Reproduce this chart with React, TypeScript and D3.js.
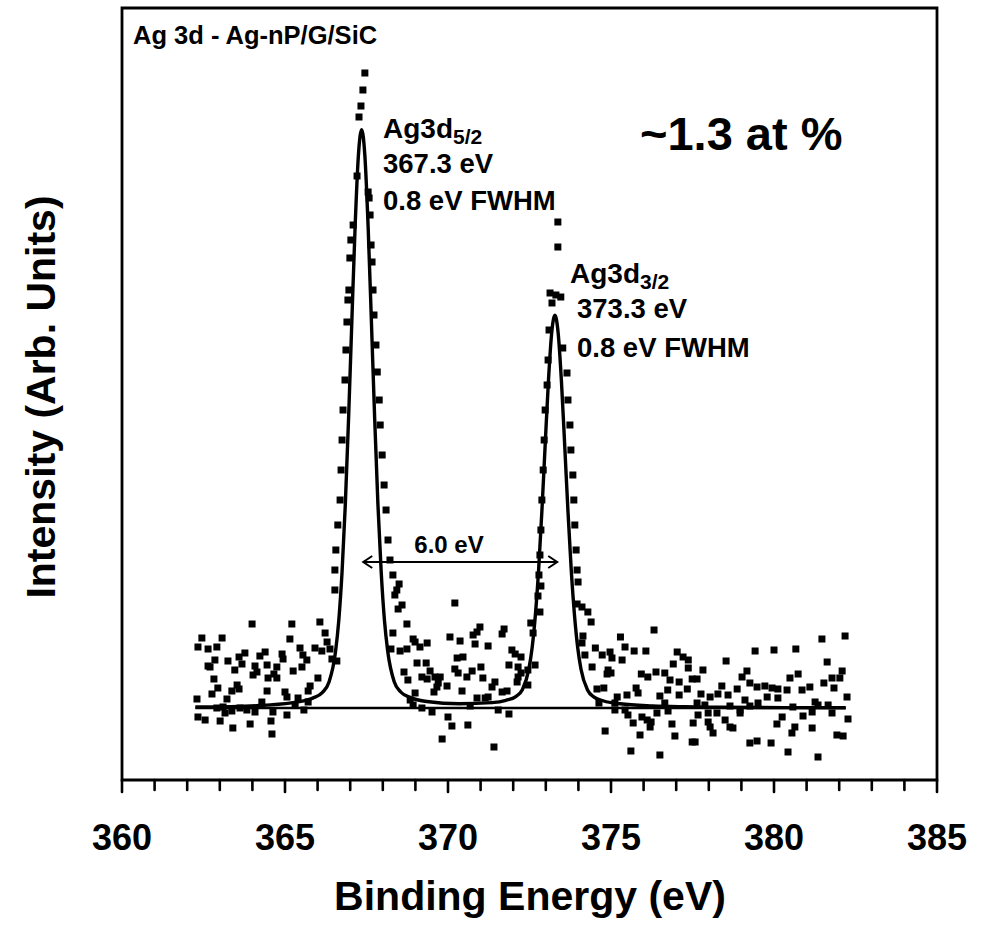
import React from "react";
import * as d3 from "d3";

// ---------- data ----------
// scatter: binding energy (eV) and intensity (arb. units)
const pointsEV: number[] = [
  // left background
  366.53,363.99,365.21,366.07,362.45,363.07,365.15,366.23,362.33,362.64,362.91,366.29,366.38,365.92,366.13,365.46,
  363.77,363.59,364.39,364.23,364.91,364.94,365.55,365.67,366.44,366.59,362.85,362.64,362.70,363.25,363.68,363.46,
  364.08,364.14,364.45,364.75,364.66,365.52,365.25,364.02,364.48,364.75,362.82,366.01,363.53,363.59,362.94,362.76,
  363.37,365.77,365.71,364.45,365.00,365.06,362.30,363.22,364.29,365.40,365.31,365.71,365.58,363.10,362.91,363.62,
  363.83,364.08,362.55,362.33,363.01,363.16,363.40,363.93,364.57,365.06,364.60,364.63,363.37,
  // peak 1
  367.45,367.39,367.33,367.27,367.21,367.55,367.58,367.09,367.02,366.99,366.96,366.93,366.90,366.87,366.84,366.78,
  366.75,366.72,366.69,366.62,366.56,366.53,367.61,367.64,367.67,367.70,367.73,367.79,367.83,367.89,367.92,367.98,
  368.04,368.10,368.16,368.22,368.31,
  // valley
  368.50,368.43,368.37,370.21,368.59,368.47,368.74,370.98,370.89,370.77,371.72,371.66,368.31,370.06,370.37,368.93,
  368.99,369.36,369.14,370.83,371.23,368.25,368.53,368.74,371.96,372.06,372.24,370.28,370.46,369.05,369.33,371.87,
  372.15,372.24,371.01,368.65,368.77,369.45,369.60,370.21,370.31,370.74,370.58,369.20,369.36,369.76,369.70,369.66,
  369.57,371.07,369.97,370.43,371.44,371.35,372.15,372.12,371.66,371.81,371.23,371.14,370.89,368.99,368.84,368.93,
  369.20,369.51,370.68,371.54,371.87,370.00,370.12,370.61,369.82,371.41,
  // peak 2
  373.37,373.37,373.13,373.31,373.46,373.19,373.10,373.07,373.04,372.98,372.95,372.92,372.88,372.85,372.82,372.79,
  373.52,373.65,373.68,373.74,373.77,373.83,373.86,373.89,373.93,373.96,
  372.85,372.76,372.82,372.54,372.61,372.67,372.45,372.45,
  // right background
  373.99,373.96,374.11,374.29,374.39,374.14,374.11,374.52,374.73,374.20,375.29,375.43,375.71,376.07,374.97,375.03,
  375.34,374.42,374.91,375.00,374.88,376.32,377.03,377.21,377.37,377.37,376.91,375.93,376.13,376.38,376.65,376.81,
  377.09,377.49,374.57,374.78,375.77,375.83,375.49,376.74,377.09,377.34,376.50,375.19,375.12,374.63,376.65,375.12,
  375.43,375.52,375.68,375.95,376.11,376.23,376.20,376.41,376.75,374.82,375.89,376.87,376.96,377.49,377.52,375.61,
  376.50,
  381.47,382.18,379.42,380.00,380.67,378.53,381.63,377.82,379.17,379.02,382.09,382.02,381.78,380.74,380.49,377.64,
  379.26,379.48,379.72,379.94,380.12,380.40,378.40,378.87,380.86,381.10,381.53,381.84,377.76,378.04,378.28,378.59,
  379.79,380.12,382.24,379.11,379.51,381.26,381.35,377.64,377.88,378.65,378.96,379.26,380.58,381.66,381.78,381.17,
  380.89,377.67,377.98,378.25,378.96,380.25,380.09,377.98,378.04,378.13,378.50,378.65,378.74,380.64,380.55,381.17,
  382.27,381.93,382.12,377.58,379.26,379.48,379.91,380.43,381.35,
];
const pointsI: number[] = [
  190,156,156,158,142,142,141,147,133,131,133,138,131,132,129,132,
  127,123,128,124,126,121,125,120,121,119,120,114,113,119,116,110,
  114,108,115,113,106,113,109,105,102,102,101,102,95,91,92,86,
  89,94,89,89,88,83,81,81,78,82,75,78,70,73,72,72,
  70,68,60,63,59,67,52,56,59,65,46,68,69,
  707,690,674,663,604,588,582,555,540,522,490,480,458,430,400,370,
  340,310,280,255,230,210,565,535,518,490,465,435,408,380,355,325,
  295,270,240,220,205,
  196,190,185,177,175,171,156,153,148,145,151,146,147,143,139,141,
  138,137,133,136,134,131,129,131,130,126,123,122,123,117,117,115,
  113,107,113,108,100,109,103,111,107,109,103,103,101,103,97,93,
  88,102,94,89,98,93,103,98,88,89,83,82,82,87,80,75,
  72,68,74,70,66,63,54,55,41,33,
  558,533,487,485,483,477,450,420,395,370,340,310,280,250,225,205,
  432,407,380,355,330,305,280,255,230,210,
  194,184,168,157,147,115,110,95,
  198,176,173,168,158,144,137,132,125,125,143,133,129,129,128,122,
  120,113,110,107,106,150,128,123,120,112,116,106,103,108,107,100,
  98,101,91,92,92,87,85,90,85,91,84,83,77,77,77,70,
  70,65,57,63,60,58,53,67,69,49,45,56,44,38,57,29,
  25,
  141,144,129,130,131,119,118,110,109,103,109,102,102,106,102,101,
  97,93,94,92,91,90,94,91,90,93,97,92,86,83,86,85,
  83,82,83,80,77,78,75,77,75,74,70,74,73,75,67,68,
  64,65,67,67,67,63,56,58,53,47,60,53,52,53,47,52,
  61,45,44,38,37,39,37,28,23,
];

// fitted envelope
const fitEV: number[] = [
  362.25,363.35,364.35,365.35,365.85,366.15,366.35,366.55,366.65,366.75,366.85,366.95,367.05,367.15,367.25,367.35,
  367.45,367.55,367.65,367.75,367.85,367.95,368.05,368.15,368.35,368.55,368.85,369.35,370.35,371.35,371.78,372.08,
  372.28,372.48,372.58,372.68,372.78,372.88,372.98,373.08,373.18,373.28,373.38,373.48,373.58,373.68,373.78,373.88,
  373.98,374.08,374.28,374.48,374.78,375.28,376.28,377.28,378.28,380.28,382.2,
];
const fitI: number[] = [
  73,73.4,74.7,77.8,81.9,87.6,98,128.4,159.6,208,275.3,361.4,458.5,552.7,623.8,650.4,
  624.3,553.2,459,362,276,208.5,160,129,98.2,88,82.4,78.5,76.3,77.4,79.7,83.4,
  90.3,110.9,132.1,165,210.4,268.8,334.7,398.6,446.8,464.8,446.7,398.5,334.6,268.7,210.3,164.9,
  132,110.8,90,82.9,79,76.2,74,73.2,72.8,72.4,72.2,
];

// linear background
const baseEV: number[] = [362.25, 382.2];
const baseI: number[] = [72, 72];

// separation arrow
const arrowEV: number[] = [367.4, 373.35];
const arrowI: number = 218;

const xTicksMajor: number[] = [360, 365, 370, 375, 380, 385];
const xTicksMinor: number[] = d3.range(360, 386, 1);

// ---------- layout ----------
const W = 984;
const H = 936;
const L = 122, R = 937, T = 8, B = 780;
const FONT = "'Liberation Sans', Arial, Helvetica, sans-serif";

export default function App() {
  const x = d3.scaleLinear().domain([360, 385]).range([L, R]);
  const y = d3.scaleLinear().domain([0, 772]).range([B, T]);

  const fitLine = d3
    .line<number>()
    .x((_, i) => x(fitEV[i]))
    .y((d) => y(d))
    .curve(d3.curveMonotoneX);
  const baseLine = d3
    .line<number>()
    .x((_, i) => x(baseEV[i]))
    .y((d) => y(d));

  const sq = 7;
  const ax1 = x(arrowEV[0]);
  const ax2 = x(arrowEV[1]);
  const ay = y(arrowI);

  return (
    <svg
      width={W}
      height={H}
      style={{ position: "absolute", left: 0, top: 0, background: "#fff" }}
      fontFamily={FONT}
    >
      <rect x={0} y={0} width={W} height={H} fill="#fff" />
      {/* points */}
      <g fill="#000">
        {pointsEV.map((e, i) => (
          <rect
            key={i}
            x={x(e) - sq / 2}
            y={y(pointsI[i]) - sq / 2}
            width={sq}
            height={sq}
          />
        ))}
      </g>
      {/* background & fit */}
      <path d={baseLine(baseI) || ""} fill="none" stroke="#000" strokeWidth={2.6} />
      <path d={fitLine(fitI) || ""} fill="none" stroke="#000" strokeWidth={3.4} strokeLinejoin="round" />

      {/* frame */}
      <path
        d={`M${L},${B} L${L},${T} L${R},${T} L${R},${B} Z`}
        fill="none"
        stroke="#000"
        strokeWidth={2.8}
      />
      {/* ticks */}
      <g stroke="#000" strokeWidth={2.6} strokeLinecap="round">
        {xTicksMinor.map((t) => (
          <line key={t} x1={x(t)} x2={x(t)} y1={B} y2={B + (t % 5 === 0 ? 12 : 10)} />
        ))}
      </g>
      <g fontSize={36} fontWeight="bold" textAnchor="middle">
        {xTicksMajor.map((t) => (
          <text key={t} x={x(t)} y={850}>
            {t}
          </text>
        ))}
      </g>

      {/* axis labels */}
      <text x={530} y={910} fontSize={41} fontWeight="bold" textAnchor="middle">
        Binding Energy (eV)
      </text>
      <text
        transform={`translate(55,397) rotate(-90)`}
        fontSize={41}
        fontWeight="bold"
        textAnchor="middle"
      >
        Intensity (Arb. Units)
      </text>

      {/* annotations */}
      <text x={133} y={44} fontSize={25.5} fontWeight="bold">
        Ag 3d - Ag-nP/G/SiC
      </text>
      <text x={640} y={150} fontSize={47} fontWeight="bold">
        ~1.3 at %
      </text>

      <text x={383} y={138} fontSize={28} fontWeight="bold">
        Ag3d<tspan fontSize={21} dy={6}>5/2</tspan>
      </text>
      <text x={383} y={173} fontSize={27.5} fontWeight="bold">367.3 eV</text>
      <text x={383} y={210} fontSize={27.5} fontWeight="bold">0.8 eV FWHM</text>

      <text x={570} y={283} fontSize={28} fontWeight="bold">
        Ag3d<tspan fontSize={21} dy={6}>3/2</tspan>
      </text>
      <text x={577} y={318} fontSize={27.5} fontWeight="bold">373.3 eV</text>
      <text x={577} y={357} fontSize={27.5} fontWeight="bold">0.8 eV FWHM</text>

      <text x={449} y={553} fontSize={24} fontWeight="bold" textAnchor="middle">
        6.0 eV
      </text>
      <g stroke="#000" strokeWidth={2} fill="none">
        <line x1={ax1} x2={ax2} y1={ay} y2={ay} />
        <path d={`M${ax1 + 9},${ay - 6} L${ax1},${ay} L${ax1 + 9},${ay + 6}`} />
        <path d={`M${ax2 - 9},${ay - 6} L${ax2},${ay} L${ax2 - 9},${ay + 6}`} />
      </g>
    </svg>
  );
}
